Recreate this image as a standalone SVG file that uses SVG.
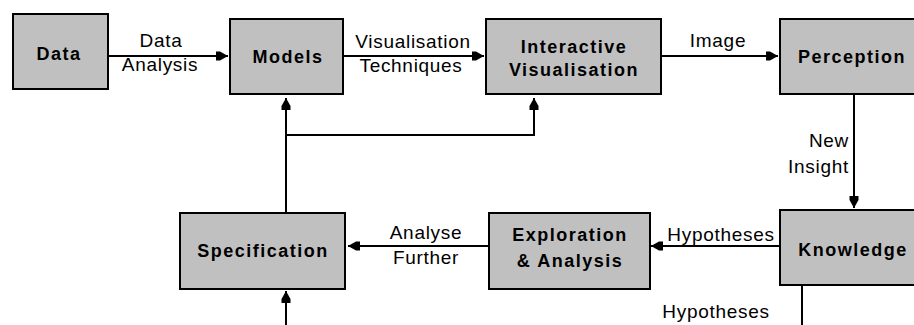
<svg xmlns="http://www.w3.org/2000/svg" width="914" height="325" viewBox="0 0 914 325">
  <style>
    .box { fill: #c0c0c0; stroke: #000; stroke-width: 2; }
    .name { font-family: "Liberation Sans", Arial, sans-serif; font-size: 18px; font-weight: bold; letter-spacing: 1.5px; text-anchor: middle; fill: #000; }
    .lbl { font-family: "Liberation Sans", Arial, sans-serif; font-size: 19px; letter-spacing: 0.7px; text-anchor: middle; fill: #000; }
    .wire { fill: none; stroke: #000; stroke-width: 2; }
  </style>
  <defs>
    <marker id="ah" viewBox="0 -5 12 10" refX="12" refY="0" markerWidth="12" markerHeight="10" markerUnits="userSpaceOnUse" orient="auto">
      <path d="M0,-4.5 L4,-4.5 L12,0 L4,4.5 L0,4.5 z" fill="#000"/>
    </marker>
  </defs>

  <rect width="914" height="325" fill="#fff"/>

  <g id="connectors">
    <path class="wire" d="M109,56 H228" marker-end="url(#ah)"/>
    <path class="wire" d="M344,56 H484" marker-end="url(#ah)"/>
    <path class="wire" d="M662,56 H778" marker-end="url(#ah)"/>
    <path class="wire" d="M854,95 V208" marker-end="url(#ah)"/>
    <path class="wire" d="M779,246 H651" marker-end="url(#ah)"/>
    <path class="wire" d="M488,246 H348" marker-end="url(#ah)"/>
    <path class="wire" d="M286,212 V98" marker-end="url(#ah)"/>
    <path class="wire" d="M286,135 H534 V98" marker-end="url(#ah)"/>
    <path class="wire" d="M286,325 V291" marker-end="url(#ah)"/>
    <path class="wire" d="M802,286 V325"/>
  </g>

  <g id="edge-labels">
    <text class="lbl" x="161" y="47">Data</text>
    <text class="lbl" x="160" y="71">Analysis</text>
    <text class="lbl" x="413" y="48">Visualisation</text>
    <text class="lbl" x="411" y="72">Techniques</text>
    <text class="lbl" x="718" y="47">Image</text>
    <text class="lbl" x="849" y="147" style="text-anchor:end">New</text>
    <text class="lbl" x="849" y="173" style="text-anchor:end">Insight</text>
    <text class="lbl" x="721" y="241">Hypotheses</text>
    <text class="lbl" x="426" y="239">Analyse</text>
    <text class="lbl" x="426" y="264">Further</text>
    <text class="lbl" x="716" y="318">Hypotheses</text>
  </g>

  <g id="data">
    <rect class="box" x="13" y="14" width="95" height="75"/>
    <text class="name" x="59" y="60">Data</text>
  </g>
  <g id="models">
    <rect class="box" x="230" y="19" width="113" height="75"/>
    <text class="name" x="288" y="63">Models</text>
  </g>
  <g id="interactive-visualisation">
    <rect class="box" x="486" y="19" width="175" height="75"/>
    <text class="name" x="574" y="53">Interactive</text>
    <text class="name" x="574" y="76">Visualisation</text>
  </g>
  <g id="perception">
    <rect class="box" x="780" y="19" width="150" height="75"/>
    <text class="name" x="852" y="63">Perception</text>
  </g>
  <g id="knowledge">
    <rect class="box" x="780" y="210" width="150" height="75"/>
    <text class="name" x="853" y="256">Knowledge</text>
  </g>
  <g id="exploration-analysis">
    <rect class="box" x="489" y="213" width="161" height="76"/>
    <text class="name" x="570" y="241">Exploration</text>
    <text class="name" x="570" y="267">&amp; Analysis</text>
  </g>
  <g id="specification">
    <rect class="box" x="180" y="213" width="165" height="76"/>
    <text class="name" x="263" y="257">Specification</text>
  </g>
</svg>
